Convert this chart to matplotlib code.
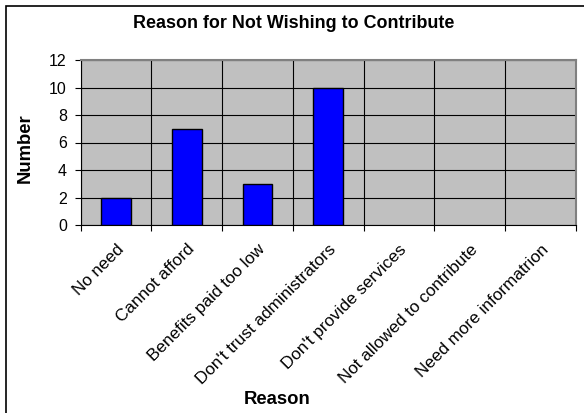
import matplotlib
matplotlib.use("Agg")
import matplotlib.pyplot as plt
import matplotlib.transforms as mtransforms
import numpy as np
from matplotlib.patches import Rectangle

reasons = ["No need", "Cannot afford", "Benefits paid too low",
           "Don't trust administrators", "Don't provide services",
           "Not allowed to contribute", "Need more informatrion"]
counts = [2, 7, 3, 10, 0, 0, 0]
y_ticks = [0, 2, 4, 6, 8, 10, 12]

plt.rcParams['font.family'] = ['Liberation Sans', 'DejaVu Sans']

fig = plt.figure(figsize=(5.84, 4.13), dpi=100)
ax = fig.add_axes([80.7 / 584, 1 - 225 / 413, (576 - 80.7) / 584, 165 / 413])
ax.set_facecolor('#c0c0c0')

x = np.arange(len(reasons))
# no outline for empty categories
widths = [1.0 if c > 0 else 0 for c in counts]
ax.bar(x, counts, width=0.42, color='#0000ff', edgecolor='black', linewidth=widths, zorder=3)

ax.set_xlim(-0.5, len(reasons) - 0.5)
ax.set_ylim(0, 12)
ax.set_yticks(y_ticks)
ax.set_xticks(x)
ax.set_xticklabels(reasons, rotation=45, ha='right', va='top', rotation_mode='anchor', fontsize=12.3)
shift = mtransforms.ScaledTranslation(-5 / 100, 0, fig.dpi_scale_trans)
for lbl in ax.get_xticklabels():
    lbl.set_transform(lbl.get_transform() + shift)
ax.set_xticks(np.arange(len(reasons) + 1) - 0.5, minor=True)
ax.tick_params(axis='x', which='major', length=0, pad=12)
ax.tick_params(axis='x', which='minor', length=4, width=0.8, color='black')
ax.tick_params(axis='y', length=4.5, width=0.8, labelsize=11.5, pad=5.5)

ax.grid(axis='y', which='major', color='black', linewidth=0.8, zorder=1)
ax.grid(axis='x', which='minor', color='black', linewidth=0.8, zorder=1)
ax.set_axisbelow(True)

for s in ['top', 'right']:
    ax.spines[s].set_color('#808080')
    ax.spines[s].set_linewidth(1.5)
for s in ['left', 'bottom']:
    ax.spines[s].set_color('black')
    ax.spines[s].set_linewidth(0.8)

fig.text(294 / 584, 1 - 23 / 413, "Reason for Not Wishing to Contribute",
         ha='center', va='center', fontsize=12.9, fontweight='bold')
fig.text(25 / 584, 1 - 148 / 413, "Number", rotation=90,
         ha='center', va='center', fontsize=13.3, fontweight='bold')
fig.text(277 / 584, 1 - 400 / 413, "Reason",
         ha='center', va='center', fontsize=13.3, fontweight='bold')

fig.patches.append(Rectangle((5.5 / 584, -0.1), 1.2, 1 - 6 / 413 + 0.1,
                             transform=fig.transFigure, fill=False,
                             edgecolor='black', linewidth=1.2))

fig.savefig("out.png", dpi=100)
